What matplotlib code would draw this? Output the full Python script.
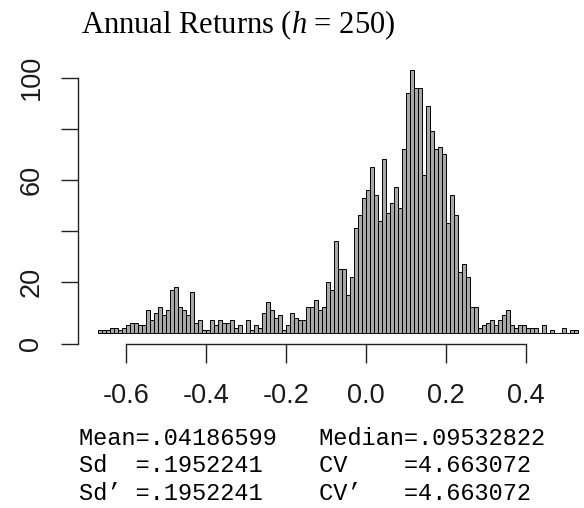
import numpy as np
import matplotlib.pyplot as plt

plt.rcParams["mathtext.fontset"] = "custom"
plt.rcParams["mathtext.rm"] = "Liberation Serif"
plt.rcParams["mathtext.it"] = "Liberation Serif:italic"

# histograma: classes de 0.01 a partir de -0.67
BIN_START = -0.67
BIN_WIDTH = 0.01
counts = [
    1, 1, 1, 2, 2, 1, 2, 3, 4, 4,
    3, 3, 9, 5, 8, 10, 7, 9, 17, 18,
    10, 9, 7, 16, 4, 5, 1, 1, 5, 3,
    5, 4, 4, 5, 2, 3, 0, 5, 1, 3,
    2, 8, 12, 9, 6, 7, 1, 3, 8, 6,
    5, 5, 10, 10, 13, 9, 10, 20, 17, 36,
    25, 25, 15, 22, 41, 46, 53, 56, 65, 54,
    44, 68, 47, 51, 57, 49, 72, 94, 103, 96,
    96, 62, 89, 79, 72, 73, 70, 43, 54, 46,
    24, 27, 22, 10, 10, 2, 3, 4, 5, 3,
    5, 7, 9, 3, 2, 3, 3, 2, 2, 2,
    0, 3, 0, 1, 0, 0, 2, 0, 1, 1,
]

xtick_vals = [-0.6, -0.4, -0.2, 0.0, 0.2, 0.4]
xtick_labels = ["-0.6", "-0.4", "-0.2", "0.0", "0.2", "0.4"]
ytick_labels = ["0", "20", "", "60", "", "100"]

stats_lines = [
    "Mean=.04186599   Median=.09532822",
    "Sd  =.1952241    CV    =4.663072",
    "Sd\u2019 =.1952241    CV\u2019   =4.663072",
]

YMIN, YMAX = -4.12, 107.12
edges = BIN_START + BIN_WIDTH * np.arange(len(counts) + 1)

fig = plt.figure(figsize=(5.84, 5.08), dpi=100)
ax = fig.add_axes([0.1344, 0.3238, 0.8877, 0.5593])

ax.bar(edges[:-1], counts, width=BIN_WIDTH, align="edge",
       color="#a8a8a8", edgecolor="black", linewidth=0.7)

ax.set_xlim(-0.718, 0.578)
ax.set_ylim(YMIN, YMAX)

for s in ["top", "right"]:
    ax.spines[s].set_visible(False)
ax.spines["bottom"].set_bounds(xtick_vals[0], xtick_vals[-1])
ax.spines["left"].set_bounds(YMIN, 100)
for s in ["bottom", "left"]:
    ax.spines[s].set_linewidth(1.0)
    ax.spines[s].set_color("#222222")

ax.set_xticks(xtick_vals, xtick_labels)
ax.set_yticks([YMIN, 20, 40, 60, 80, 100], ytick_labels)
ax.tick_params(axis="x", direction="out", length=13.5, width=1.0,
               color="#222222", pad=15, labelsize=19.5)
ax.tick_params(axis="y", direction="out", length=12.5, width=1.0,
               color="#222222", pad=12, labelsize=19.5, labelrotation=90)
for lab in ax.get_xticklabels() + ax.get_yticklabels():
    lab.set_family("Liberation Sans")
    lab.set_color("#1a1a1a")
for lab in ax.get_yticklabels():
    lab.set_va("center")

fig.text(81 / 584, 1 - 33 / 508, "Annual Returns ($h$ = 250)",
         ha="left", va="baseline", family="Liberation Serif", fontsize=22)

for i, linha in enumerate(stats_lines):
    fig.text(79 / 584, 1 - (445 + 27.5 * i) / 508, linha, ha="left", va="baseline",
             family=["Liberation Mono", "DejaVu Sans Mono"], fontsize=17)

fig.savefig("out.png", dpi=100, facecolor="white")
